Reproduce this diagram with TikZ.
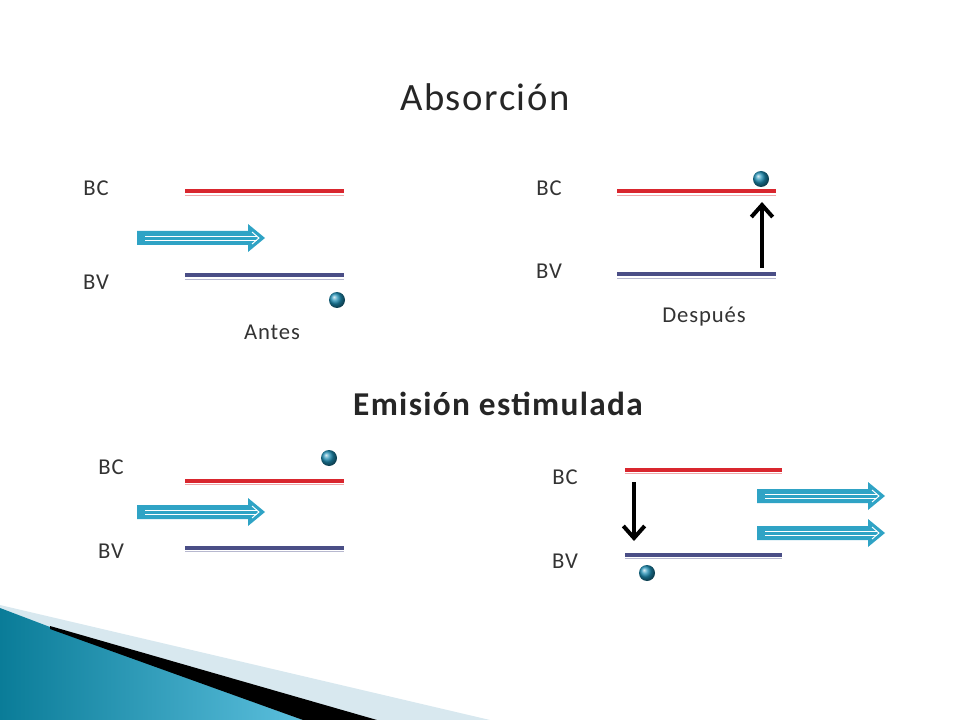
\documentclass[tikz,border=0pt]{standalone}
\usepackage{fontspec}
\setmainfont{Carlito}[LetterSpace=4]
\usetikzlibrary{arrows.meta}
\definecolor{cyanA}{HTML}{2FA3C5}
\definecolor{redL}{HTML}{D9262E}
\definecolor{blueL}{HTML}{4A4E86}
\definecolor{teal1}{HTML}{0A7C98}
\definecolor{teal2}{HTML}{5BBFDD}
\definecolor{ballc}{HTML}{1E8FB5}
\definecolor{lightb}{HTML}{D8E8EF}
\tikzset{
 lbl/.style={font=\fontsize{17}{20}\selectfont, text=black!80},
 ttl/.style={font=\fontsize{29}{34}\selectfont, text=black!85},
 ball/.style={circle, minimum size=12pt, inner sep=0pt, shading=ball, ball color=ballc},
 jump/.style={line width=3pt, -{Straight Barb[length=9pt,width=16pt,line width=3pt]}, draw=black},
}
\newcommand{\bandA}[3]{%
 \fill[redL] (#1,#3-2.5) rectangle (#2,#3+1.5);
 \draw[redL!40,line width=0.8pt] (#1,#3+3.5) -- (#2,#3+3.5);}
\newcommand{\bandB}[3]{%
 \fill[blueL] (#1,#3-2.5) rectangle (#2,#3+1.5);
 \draw[blueL!40,line width=0.8pt] (#1,#3+3.5) -- (#2,#3+3.5);}
\newcommand{\photon}[3]{%
 \fill[cyanA] (#1,#3-7) -- (#2-17,#3-7) -- (#2-17,#3-14) -- (#2,#3) -- (#2-17,#3+14) -- (#2-17,#3+7) -- (#1,#3+7) -- cycle;
 \draw[white,line width=0.7pt] (#1+8,#3-2) -- (#2-8,#3-2);
 \draw[white,line width=0.7pt] (#1+8,#3+2) -- (#2-8,#3+2);
 \draw[white,line width=0.7pt] (#2-13,#3-6) -- (#2-6,#3) -- (#2-13,#3+6);}
\begin{document}
\begin{tikzpicture}[x=0.75pt,y=-0.75pt]
\useasboundingbox (0,0) rectangle (960,720);
\fill[lightb] (0,605) -- (490,720) -- (0,720) -- cycle;
\shade[left color=teal1, right color=teal2] (0,608) -- (50,627) -- (303,720) -- (0,720) -- cycle;
\fill[black] (50,626) -- (377,720) -- (303,720) -- (50,629) -- cycle;
\node[ttl] (t1) at (485,97) {Absorción};
\node[ttl,font=\fontsize{25}{30}\selectfont\bfseries] (t2) at (498,404) {Emisión estimulada};
\node[lbl] (bc1) at (96,188) {BC};
\node[lbl] (bv1) at (96,282) {BV};
\bandA{185}{344}{192}
\bandB{185}{344}{276}
\photon{137}{265}{238}
\node[ball] (b1) at (337,300) {};
\node[lbl] (ant) at (272,332) {Antes};
\node[lbl] (bc2) at (549,188) {BC};
\node[lbl] (bv2) at (549,271) {BV};
\bandA{617}{776}{192}
\bandB{617}{776}{275}
\coordinate (u0) at (762,268);
\coordinate (u1) at (762,202);
\draw[jump] (u0) -- (u1);
\node[ball] (b2) at (761,179) {};
\node[lbl] (des) at (704,317) {Después};
\node[lbl] (bc3) at (111,467) {BC};
\node[lbl] (bv3) at (111,551) {BV};
\bandA{185}{344}{481}
\bandB{185}{344}{548}
\photon{137}{265}{512}
\node[ball] (b3) at (329,458) {};
\node[lbl] (bc4) at (565,477) {BC};
\node[lbl] (bv4) at (565,561) {BV};
\bandA{625}{782}{470}
\bandB{625}{782}{555}
\coordinate (d0) at (634,482);
\coordinate (d1) at (634,541);
\draw[jump] (d0) -- (d1);
\node[ball] (b4) at (647,573) {};
\photon{757}{885}{496}
\photon{757}{885}{533}
\end{tikzpicture}
\end{document}
